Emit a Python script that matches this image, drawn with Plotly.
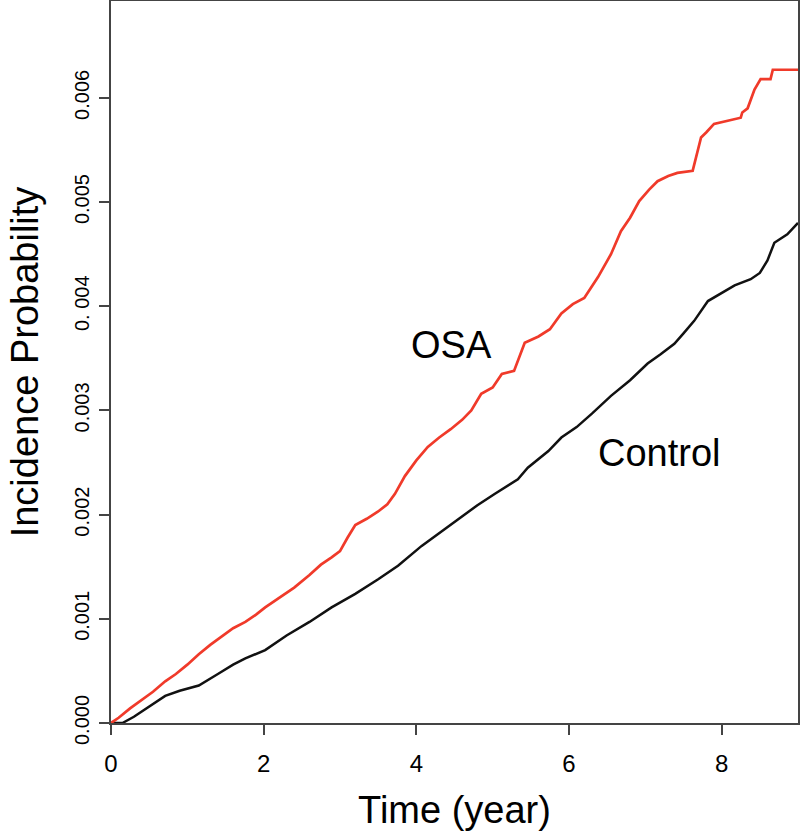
import plotly.graph_objects as go

# OSA (red) cumulative incidence
osa_t = [0.00, 0.10, 0.25, 0.40, 0.55, 0.71, 0.85, 1.00, 1.15, 1.30, 1.45, 1.60, 1.76, 1.90,
         2.02, 2.20, 2.40, 2.60, 2.75, 2.89, 3.00, 3.10, 3.20, 3.35, 3.50, 3.62, 3.72, 3.85,
         4.00, 4.15, 4.30, 4.45, 4.60, 4.72, 4.85, 5.00, 5.12, 5.28, 5.42, 5.60, 5.75, 5.90,
         6.05, 6.20, 6.38, 6.55, 6.68, 6.80, 6.92, 7.05, 7.16, 7.30, 7.42, 7.62, 7.69, 7.73,
         7.80, 7.90, 8.25, 8.27, 8.34, 8.43, 8.51, 8.64, 8.67, 9.00]
osa_p = [0.0, 0.00005, 0.00014, 0.00022, 0.00030, 0.00040, 0.00047, 0.00056, 0.00066, 0.00075,
         0.00083, 0.00091, 0.00097, 0.00104, 0.00111, 0.00120, 0.00130, 0.00142, 0.00152, 0.00159,
         0.00165, 0.00178, 0.00190, 0.00196, 0.00203, 0.00210, 0.00220, 0.00237, 0.00252, 0.00265,
         0.00274, 0.00282, 0.00291, 0.00300, 0.00316, 0.00322, 0.00335, 0.00338, 0.00365, 0.00371,
         0.00378, 0.00393, 0.00402, 0.00408, 0.00428, 0.00450, 0.00472, 0.00485, 0.00501, 0.00512,
         0.00520, 0.00525, 0.00528, 0.00530, 0.00549, 0.00562, 0.00567, 0.00575, 0.00581, 0.00586,
         0.00590, 0.00608, 0.00618, 0.00618, 0.00627, 0.00627]

# Control (black)
ctl_t = [0.00, 0.15, 0.30, 0.50, 0.71, 0.90, 1.15, 1.40, 1.60, 1.76, 2.02, 2.30, 2.60, 2.89,
         3.20, 3.50, 3.76, 4.07, 4.37, 4.59, 4.80, 5.03, 5.20, 5.33, 5.46, 5.73, 5.90, 6.10,
         6.30, 6.55, 6.80, 7.03, 7.20, 7.38, 7.50, 7.64, 7.82, 8.00, 8.17, 8.38, 8.50, 8.60,
         8.69, 8.86, 8.97, 9.00]
ctl_p = [0.0, 0.0, 0.00006, 0.00016, 0.00026, 0.00031, 0.00036, 0.00047, 0.00056, 0.00062,
         0.00070, 0.00084, 0.00097, 0.00111, 0.00124, 0.00138, 0.00151, 0.00170, 0.00186, 0.00198,
         0.00209, 0.00220, 0.00228, 0.00234, 0.00245, 0.00261, 0.00274, 0.00284, 0.00297, 0.00314,
         0.00329, 0.00345, 0.00354, 0.00364, 0.00374, 0.00386, 0.00405, 0.00413, 0.00420, 0.00426,
         0.00432, 0.00444, 0.00461, 0.00469, 0.00477, 0.00480]

x_ticks = [0, 2, 4, 6, 8]
y_ticks = [0.000, 0.001, 0.002, 0.003, 0.004, 0.005, 0.006]
y_tick_text = ["0.000", "0.001", "0.002", "0.003", "0. 004", "0.005", "0.006"]

FONT = "Liberation Sans, Arial, sans-serif"
AX = "#444444"

fig = go.Figure()
fig.add_trace(go.Scatter(x=ctl_t, y=ctl_p, mode="lines", line=dict(color="#111111", width=2.5),
                         showlegend=False))
fig.add_trace(go.Scatter(x=osa_t, y=osa_p, mode="lines", line=dict(color="rgb(240,58,42)", width=2.7),
                         showlegend=False))

fig.add_annotation(x=4.46, y=0.00363, text="OSA", showarrow=False,
                   font=dict(family=FONT, size=38, color="#000"), xanchor="center", yanchor="middle")
fig.add_annotation(x=7.19, y=0.00259, text="Control", showarrow=False,
                   font=dict(family=FONT, size=38, color="#000"), xanchor="center", yanchor="middle")

fig.update_layout(
    width=800, height=833,
    margin=dict(l=111, r=2, t=1, b=110),
    paper_bgcolor="white", plot_bgcolor="white",
    font=dict(family=FONT, color="#000"),
    xaxis=dict(range=[0, 9], tickvals=x_ticks, ticks="outside", ticklen=10, tickwidth=1.5, tickcolor=AX,
               showline=True, linecolor=AX, linewidth=1.5, mirror=True, showgrid=False, zeroline=False,
               tickfont=dict(size=24, family=FONT), ticklabelstandoff=8, automargin=False,
               title=dict(text="Time (year)", font=dict(size=38, family=FONT), standoff=21)),
    yaxis=dict(range=[0, 0.00693], tickvals=y_ticks, ticktext=y_tick_text, tickangle=-90,
               ticks="outside", ticklen=10, tickwidth=1.5, tickcolor=AX,
               showline=True, linecolor=AX, linewidth=1.5, mirror=True, showgrid=False, zeroline=False,
               tickfont=dict(size=20, family=FONT), ticklabelstandoff=2, automargin=False,
               title=dict(text="Incidence Probability", font=dict(size=38, family=FONT), standoff=21)),
)

fig.write_html("out.html", config={"displayModeBar": False},
               post_script="document.body.style.margin='0';document.body.style.overflow='hidden';")
